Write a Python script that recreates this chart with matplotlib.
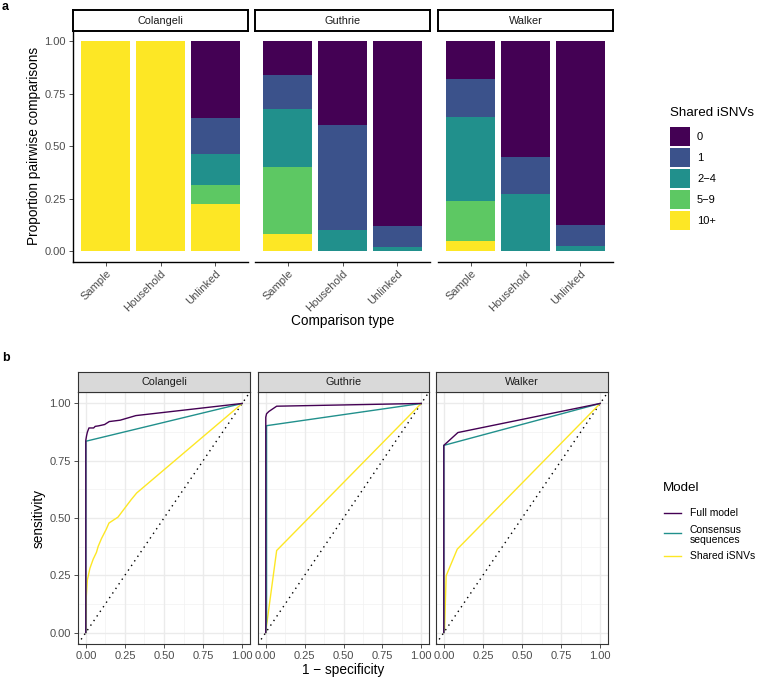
import numpy as np
import matplotlib
matplotlib.use("Agg")
import matplotlib.pyplot as plt
from matplotlib.patches import Rectangle
from matplotlib.lines import Line2D

plt.rcParams['font.family'] = ['Liberation Sans', 'DejaVu Sans']

W, H = 760, 677

# ---------------- data: panel a ----------------
studies = ["Colangeli", "Guthrie", "Walker"]
comparisons = ["Sample", "Household", "Unlinked"]
snv_levels = ["0", "1", "2\u22124", "5\u22129", "10+"]
snv_colors = ["#440154", "#3B528B", "#21908C", "#5DC863", "#FDE725"]

# proportions per comparison type, order of snv_levels (0, 1, 2-4, 5-9, 10+)
colangeli_props = [[0, 0, 0, 0, 1.0],
                   [0, 0, 0, 0, 1.0],
                   [0.367, 0.171, 0.148, 0.090, 0.224]]
guthrie_props = [[0.160, 0.160, 0.280, 0.321, 0.079],
                 [0.400, 0.500, 0.100, 0, 0],
                 [0.880, 0.102, 0.018, 0, 0]]
walker_props = [[0.180, 0.180, 0.400, 0.190, 0.050],
                [0.550, 0.180, 0.270, 0, 0],
                [0.876, 0.102, 0.022, 0, 0]]
props = [colangeli_props, guthrie_props, walker_props]

# ---------------- data: panel b (ROC curves) ----------------
models = ["Full model", "Consensus\nsequences", "Shared iSNVs"]
model_colors = ["#440154", "#21908C", "#FDE725"]

colangeli_full_fpr = [0, 0, 0.005, 0.01, 0.02, 0.05, 0.06, 0.08, 0.12, 0.15, 0.22, 0.32, 1]
colangeli_full_tpr = [0, 0.84, 0.86, 0.875, 0.893, 0.893, 0.90, 0.902, 0.908, 0.921, 0.927, 0.947, 1]
colangeli_cons_fpr = [0, 0, 1]
colangeli_cons_tpr = [0, 0.835, 1]
colangeli_snv_fpr = [0, 0.003, 0.01, 0.026, 0.047, 0.068, 0.079, 0.10, 0.13, 0.148, 0.206, 0.29, 0.325, 1]
colangeli_snv_tpr = [0, 0.157, 0.23, 0.28, 0.32, 0.35, 0.376, 0.41, 0.45, 0.478, 0.504, 0.58, 0.609, 1]

guthrie_full_fpr = [0, 0, 0.005, 0.02, 0.07, 1]
guthrie_full_tpr = [0, 0.94, 0.955, 0.965, 0.988, 1]
guthrie_cons_fpr = [0, 0.005, 0.005, 1]
guthrie_cons_tpr = [0, 0.05, 0.903, 1]
guthrie_snv_fpr = [0, 0.005, 0.07, 1]
guthrie_snv_tpr = [0, 0.03, 0.358, 1]

walker_full_fpr = [0, 0, 0.09, 1]
walker_full_tpr = [0, 0.817, 0.873, 1]
walker_cons_fpr = [0, 0, 1]
walker_cons_tpr = [0, 0.817, 1]
walker_snv_fpr = [0, 0.005, 0.015, 0.086, 1]
walker_snv_tpr = [0, 0.02, 0.248, 0.364, 1]

roc = [
    [(colangeli_full_fpr, colangeli_full_tpr), (colangeli_cons_fpr, colangeli_cons_tpr),
     (colangeli_snv_fpr, colangeli_snv_tpr)],
    [(guthrie_full_fpr, guthrie_full_tpr), (guthrie_cons_fpr, guthrie_cons_tpr),
     (guthrie_snv_fpr, guthrie_snv_tpr)],
    [(walker_full_fpr, walker_full_tpr), (walker_cons_fpr, walker_cons_tpr),
     (walker_snv_fpr, walker_snv_tpr)],
]

TICK_FS = 8
TITLE_FS = 9.8
STRIP_FS = 7.8
LEG_FS = 8
LEGT_FS = 9.6


def px_axes(fig, x0, y0, x1, y1):
    # pixel box (top-left origin) -> figure axes
    return fig.add_axes([x0 / W, 1 - y1 / H, (x1 - x0) / W, (y1 - y0) / H])


def fx(x):
    return x / W


def fy(y):
    return 1 - y / H


fig = plt.figure(figsize=(W / 100, H / 100), dpi=100)

GRAY30 = "#4D4D4D"
GRAY20 = "#333333"

# ================= panel a =================
a_x = [(73, 248), (255, 430), (438, 613)]
a_top, a_bot = 31, 261.5
for i, (x0, x1) in enumerate(a_x):
    ax = px_axes(fig, x0, a_top, x1, a_bot)
    xs = np.arange(1, 4)
    data = np.array(props[i])
    bottom = np.zeros(3)
    # stack from 10+ at the bottom up to 0 on top
    for k in range(len(snv_levels) - 1, -1, -1):
        ax.bar(xs, data[:, k], 0.9, bottom=bottom, color=snv_colors[k], linewidth=0)
        bottom += data[:, k]
    ax.set_xlim(0.4, 3.6)
    ax.set_ylim(-0.05, 1.05)
    ax.set_xticks(xs)
    ax.set_xticklabels(comparisons, rotation=45, ha="right", va="top",
                       rotation_mode="anchor", color=GRAY30, fontsize=TICK_FS)
    for s in ["top", "right"]:
        ax.spines[s].set_visible(False)
    ax.spines["bottom"].set_linewidth(1.0)
    ax.spines["left"].set_linewidth(1.0)
    ax.tick_params(axis="x", length=3, width=0.6, color=GRAY20, pad=2)
    if i == 0:
        ax.set_yticks([0, 0.25, 0.5, 0.75, 1.0])
        ax.set_yticklabels(["0.00", "0.25", "0.50", "0.75", "1.00"], color=GRAY30, fontsize=TICK_FS)
        ax.tick_params(axis="y", length=3, width=0.6, color=GRAY20, pad=2)
        ax.set_ylabel("Proportion pairwise comparisons", fontsize=TITLE_FS, labelpad=2.5)
    else:
        ax.spines["left"].set_visible(False)
        ax.set_yticks([])
    # strip
    st = px_axes(fig, x0, 10, x1, a_top)
    st.set_xticks([])
    st.set_yticks([])
    for s in st.spines.values():
        s.set_linewidth(1.4)
        s.set_color("black")
    st.text(0.5, 0.5, studies[i], ha="center", va="center", fontsize=STRIP_FS, color="#1A1A1A",
            transform=st.transAxes)

fig.text(fx(343), fy(321), "Comparison type", ha="center", va="center", fontsize=TITLE_FS)
fig.text(fx(2), fy(1), "a", ha="left", va="top", fontsize=9, fontweight="bold")

# legend a (drawn by hand to match ggplot key sizes)
fig.text(fx(670), fy(113), "Shared iSNVs", ha="left", va="center", fontsize=LEGT_FS)
for k, (lab, col) in enumerate(zip(snv_levels, snv_colors)):
    ytop = 127 + k * 20.9
    fig.add_artist(Rectangle((fx(670), fy(ytop + 19.3)), 19.5 / W, 19.3 / H,
                             transform=fig.transFigure, facecolor=col, edgecolor="none"))
    fig.text(fx(697), fy(ytop + 10), lab, ha="left", va="center", fontsize=LEG_FS)

# ================= panel b =================
b_x = [(78, 250), (258, 429), (436, 608)]
b_top, b_bot = 392, 644
grid_major = [0, 0.25, 0.5, 0.75, 1.0]
grid_minor = [0.125, 0.375, 0.625, 0.875]
for i, (x0, x1) in enumerate(b_x):
    ax = px_axes(fig, x0, b_top, x1, b_bot)
    ax.set_xlim(-0.05, 1.05)
    ax.set_ylim(-0.05, 1.05)
    for g in grid_minor:
        ax.axvline(g, color="#F2F2F2", lw=0.5, zorder=0)
        ax.axhline(g, color="#F2F2F2", lw=0.5, zorder=0)
    for g in grid_major:
        ax.axvline(g, color="#EBEBEB", lw=1.0, zorder=0)
        ax.axhline(g, color="#EBEBEB", lw=1.0, zorder=0)
    ax.plot([-0.05, 1.05], [-0.05, 1.05], ls=(0, (1, 3)), color="black", lw=1.0, zorder=1)
    # draw yellow first, then teal, then purple on top
    for m in [2, 1, 0]:
        fpr, tpr = roc[i][m]
        ax.plot(fpr, tpr, color=model_colors[m], lw=1.0, zorder=2 + (2 - m))
    for s in ax.spines.values():
        s.set_color(GRAY20)
        s.set_linewidth(0.8)
    ax.set_xticks(grid_major)
    ax.set_xticklabels(["0.00", "0.25", "0.50", "0.75", "1.00"], color=GRAY30, fontsize=TICK_FS)
    ax.tick_params(length=3, width=0.6, color=GRAY20, pad=2)
    if i == 0:
        ax.set_yticks(grid_major)
        ax.set_yticklabels(["0.00", "0.25", "0.50", "0.75", "1.00"], color=GRAY30, fontsize=TICK_FS)
        ax.set_ylabel("sensitivity", fontsize=TITLE_FS, labelpad=2.5)
    else:
        ax.set_yticks([])
    st = px_axes(fig, x0, 372, x1, b_top)
    st.set_facecolor("#D9D9D9")
    st.set_xticks([])
    st.set_yticks([])
    for s in st.spines.values():
        s.set_color(GRAY20)
        s.set_linewidth(0.8)
    st.text(0.5, 0.5, studies[i], ha="center", va="center", fontsize=STRIP_FS, color="#1A1A1A",
            transform=st.transAxes)

fig.text(fx(343), fy(670), "1 \u2212 specificity", ha="center", va="center", fontsize=TITLE_FS)
fig.text(fx(2), fy(352), "b", ha="left", va="top", fontsize=9, fontweight="bold")

# legend b
fig.text(fx(663), fy(488), "Model", ha="left", va="center", fontsize=LEGT_FS)
key_y = [513, 533, 556]
text_y = [513, 535, 556]
for m in range(3):
    fig.add_artist(Line2D([fx(664), fx(681)], [fy(key_y[m]), fy(key_y[m])],
                          transform=fig.transFigure, color=model_colors[m], lw=1.0))
    fig.text(fx(690), fy(text_y[m]), models[m], ha="left", va="center", fontsize=7.5,
             linespacing=1.1)

fig.savefig("out.png", dpi=100)
